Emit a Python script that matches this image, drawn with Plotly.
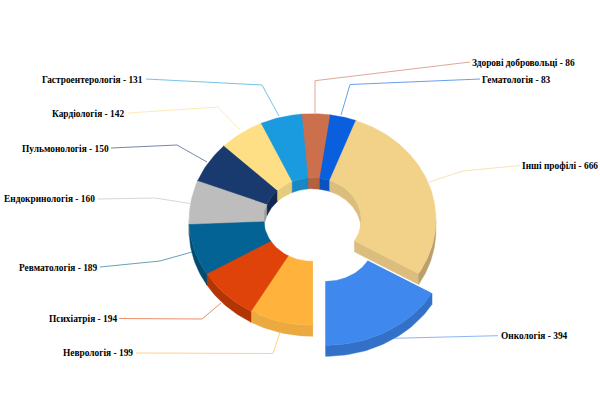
import math
import plotly.graph_objects as go

# ---- data (clockwise from the first slice) ----
categories = ["Гематологія", "Інші профілі", "Онкологія", "Неврологія", "Психіатрія",
              "Ревматологія", "Ендокринологія", "Пульмонологія", "Кардіологія",
              "Гастроентерологія", "Здорові добровольці"]
values = [83, 666, 394, 199, 194, 189, 160, 150, 142, 131, 86]

# ---- styles ----
top_colors = ["#0A5FDE", "#F2D189", "#3F88EE", "#FFB33C", "#E0430A",
              "#036394", "#BDBDBD", "#183A6E", "#FFDF85", "#1A9BDF", "#CC6F4D"]
inner_colors = ["#0A52BE", "#DBBE7E", "#3670CC", "#DDA038", "#BC3808",
                "#024F78", "#9C9C9C", "#12294F", "#E6CB7C", "#1788C4", "#B3613F"]
outer_colors = ["#0A4FB5", "#B9A06C", "#3371C8", "#EBAA40", "#B23506",
                "#024A70", "#999999", "#11284C", "#D6BB70", "#1580BA", "#AC5B3E"]

# ---- geometry of the tilted ring, in page pixels ----
CX, CY = 312.5, 219.5
RX, RY = 123.4, 105.8
HOLE = 0.395
DEPTH = 11.0
START = 8.1
PULLED = "Онкологія"
PULL = 27.0


def pt(a, r, dx=0.0, dy=0.0):
    t = math.radians(a)
    return (CX + dx + r * RX * math.sin(t), CY + dy - r * RY * math.cos(t))


def arc(a0, a1, r, dx=0.0, dy=0.0):
    n = max(2, int(abs(a1 - a0) / 1.5) + 2)
    return [pt(a0 + (a1 - a0) * i / (n - 1), r, dx, dy) for i in range(n)]


def add_poly(fig, pts, color):
    xs = [p[0] for p in pts] + [pts[0][0]]
    ys = [p[1] for p in pts] + [pts[0][1]]
    fig.add_trace(go.Scatter(x=xs, y=ys, mode="lines", fill="toself", fillcolor=color,
                             line=dict(color=color, width=0.4), hoverinfo="skip", showlegend=False))


def clip(a0, a1, lo, hi):
    s, e = max(a0, lo), min(a1, hi)
    return (s, e) if e > s else None


total = sum(values)
slices = []
a = START
for name, v in zip(categories, values):
    b = a + 360.0 * v / total
    mid = math.radians((a + b) / 2)
    p = PULL if name == PULLED else 0.0
    slices.append((a, b, p * math.sin(mid) * RX / 124.0, -p * math.cos(mid) * RY / 124.0))
    a = b

fig = go.Figure()

# end faces
for (a0, a1, dx, dy), col in zip(slices, inner_colors):
    for ang in (a0, a1):
        add_poly(fig, [pt(ang, HOLE, dx, dy), pt(ang, 1, dx, dy),
                       pt(ang, 1, dx, dy + DEPTH), pt(ang, HOLE, dx, dy + DEPTH)], col)

# inner walls (far side) and outer walls (near side)
for (a0, a1, dx, dy), ci, co in zip(slices, inner_colors, outer_colors):
    for lo, hi in ((-90, 90), (270, 450)):
        seg = clip(a0, a1, lo, hi)
        if seg:
            add_poly(fig, arc(seg[0], seg[1], HOLE, dx, dy) + arc(seg[1], seg[0], HOLE, dx, dy + DEPTH), ci)
    seg = clip(a0, a1, 90, 270)
    if seg:
        add_poly(fig, arc(seg[0], seg[1], 1, dx, dy) + arc(seg[1], seg[0], 1, dx, dy + DEPTH), co)

# top faces
for (a0, a1, dx, dy), col in zip(slices, top_colors):
    add_poly(fig, arc(a0, a1, 1, dx, dy) + arc(a1, a0, HOLE, dx, dy), col)

# ---- leader lines and labels, page pixels ----
leaders = {
    "Гематологія": [(480, 79), (350, 84.5), (341, 115)],
    "Інші профілі": [(520, 165.5), (463, 171), (429, 182)],
    "Онкологія": [(498, 335.7), (393, 338.3)],
    "Неврологія": [(136, 353), (273, 353.5), (280, 332)],
    "Психіатрія": [(119, 318.5), (202, 319), (221, 303)],
    "Ревматологія": [(100, 267), (160, 261), (192, 252)],
    "Ендокринологія": [(98, 199), (155, 198), (190, 203.5)],
    "Пульмонологія": [(111, 148), (177, 145), (207, 162)],
    "Кардіологія": [(128, 113), (218, 107), (240, 130)],
    "Гастроентерологія": [(146, 79), (262, 85), (279, 116)],
    "Здорові добровольці": [(470, 62), (315, 80.7), (315, 113)],
}
label_anchor = {
    "Гематологія": ("left", 481, 79.5),
    "Інші профілі": ("left", 521, 165.5),
    "Онкологія": ("left", 500, 335.5),
    "Неврологія": ("right", 134, 352.5),
    "Психіатрія": ("right", 117.5, 319),
    "Ревматологія": ("right", 99, 267.5),
    "Ендокринологія": ("right", 95.5, 199),
    "Пульмонологія": ("right", 110, 148.5),
    "Кардіологія": ("right", 125, 113.5),
    "Гастроентерологія": ("right", 143.5, 79.5),
    "Здорові добровольці": ("left", 471, 62.5),
}

annotations = []
for name, v, col in zip(categories, values, top_colors):
    pts = leaders[name]
    fig.add_trace(go.Scatter(x=[p[0] for p in pts], y=[p[1] for p in pts], mode="lines",
                             line=dict(color=col, width=1), opacity=0.6,
                             hoverinfo="skip", showlegend=False))
    anchor, x, y = label_anchor[name]
    annotations.append(dict(x=x, y=y, xref="x", yref="y", text=f"<b>{name} - {v}</b>",
                            showarrow=False, xanchor=anchor, yanchor="middle",
                            borderpad=0, font=dict(family="Liberation Serif", size=9.4, color="#000000")))

fig.update_layout(
    width=600, height=405, margin=dict(l=0, r=0, t=0, b=0),
    paper_bgcolor="#FFFFFF", plot_bgcolor="#FFFFFF", showlegend=False,
    annotations=annotations,
    xaxis=dict(range=[0, 600], visible=False, fixedrange=True),
    yaxis=dict(range=[405, 0], visible=False, fixedrange=True),
)
fig.write_html("out.html", config={"displayModeBar": False},
               post_script="document.body.style.margin='0';")
